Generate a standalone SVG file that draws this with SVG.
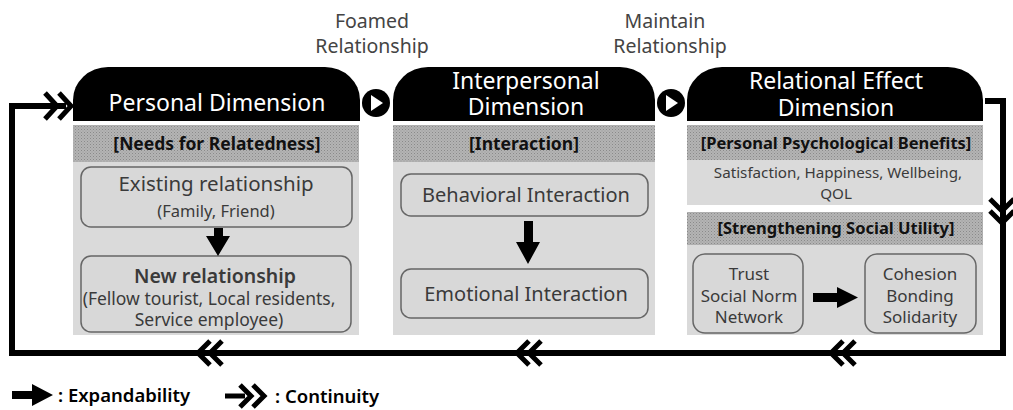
<svg xmlns="http://www.w3.org/2000/svg" width="1013" height="410" viewBox="0 0 1013 410">
<defs>
<pattern id="dots" width="3" height="3" patternUnits="userSpaceOnUse">
<rect width="3" height="3" fill="#b4b4b4"/>
<rect width="1" height="1" fill="#8a8a8a"/>
<rect x="1.5" y="1.5" width="1" height="1" fill="#9a9a9a"/>
</pattern>
</defs>
<style>
text{font-family:"Noto Sans","Liberation Sans",sans-serif;}
.hd{fill:#000;}
.hdt{fill:#fff;font-size:23px;text-anchor:middle;}
.band{fill:url(#dots);}
.panel{fill:#dadada;}
.bt{fill:#111;font-size:17.5px;font-weight:bold;text-anchor:middle;}
.box{fill:#d8d8d8;stroke:#666;stroke-width:1.5;}
.tx{fill:#3a3a3a;text-anchor:middle;}
.loop{fill:none;stroke:#000;stroke-width:6;}
.chev{fill:none;stroke:#000;stroke-width:5;stroke-linejoin:miter;}
.lbl{fill:#444;font-size:19.5px;text-anchor:middle;}
.lg{fill:#000;font-size:18.5px;font-weight:600;}
</style>

<g id="label-foamed">
<text class="lbl"><tspan x="372" y="28">Foamed</tspan><tspan x="372" y="53">Relationship</tspan></text>
</g>
<g id="label-maintain">
<text class="lbl"><tspan x="665" y="28">Maintain</tspan><tspan x="670" y="53">Relationship</tspan></text>
</g>

<g id="personal-dimension">
<path class="hd" d="M73,121 V100 A35,33 0 0 1 108,67 H325 A35,33 0 0 1 360,100 V121 Z"/>
<text class="hdt" x="217" y="111">Personal Dimension</text>
<rect class="band" x="73" y="125" width="286" height="37"/>
<text class="bt" x="217" y="150">[Needs for Relatedness]</text>
<rect class="panel" x="73" y="162" width="286" height="173"/>
<g id="existing-relationship">
<rect class="box" x="81" y="167" width="271" height="60" rx="10"/>
<text class="tx"><tspan x="216" y="191" style="font-size:20.5px">Existing relationship</tspan><tspan x="216" y="217" style="font-size:16.5px">(Family, Friend)</tspan></text>
</g>
<g id="new-relationship">
<rect class="box" x="81" y="256" width="270" height="76" rx="10"/>
<text class="tx" style="font-size:17.5px"><tspan x="215" y="283" style="font-size:19.5px;font-weight:600">New relationship</tspan><tspan x="209" y="305">(Fellow tourist, Local residents,</tspan><tspan x="209" y="326">Service employee)</tspan></text>
</g>
</g>

<g id="interpersonal-dimension">
<path class="hd" d="M393,121 V100 A35,33 0 0 1 428,67 H620 A35,33 0 0 1 655,100 V121 Z"/>
<text class="hdt"><tspan x="526" y="89">Interpersonal</tspan><tspan x="526" y="115">Dimension</tspan></text>
<rect class="band" x="393" y="125" width="262" height="37"/>
<text class="bt" x="524" y="150">[Interaction]</text>
<rect class="panel" x="393" y="162" width="262" height="173"/>
<g id="behavioral-interaction">
<rect class="box" x="401" y="174" width="247" height="42" rx="10"/>
<text class="tx" x="526" y="202" style="font-size:20px">Behavioral Interaction</text>
</g>
<g id="emotional-interaction">
<rect class="box" x="401" y="269" width="247" height="49" rx="10"/>
<text class="tx" x="526" y="301" style="font-size:20px">Emotional Interaction</text>
</g>
</g>

<g id="relational-effect-dimension">
<path class="hd" d="M687,121 V100 A35,33 0 0 1 722,67 H948 A35,33 0 0 1 983,100 V121 Z"/>
<text class="hdt"><tspan x="836" y="89">Relational Effect</tspan><tspan x="836" y="116">Dimension</tspan></text>
<rect class="band" x="687" y="125" width="296" height="35"/>
<text class="bt" x="836" y="149" style="font-size:16.5px">[Personal Psychological Benefits]</text>
<rect class="panel" x="687" y="160" width="296" height="45"/>
<text class="tx" style="font-size:15.2px"><tspan x="838" y="178">Satisfaction, Happiness, Wellbeing,</tspan><tspan x="836" y="199">QOL</tspan></text>
<rect class="band" x="687" y="212" width="296" height="33"/>
<text class="bt" x="836" y="234" style="font-size:16.5px">[Strengthening Social Utility]</text>
<rect class="panel" x="687" y="245" width="296" height="90"/>
<g id="trust-box">
<rect class="box" x="693" y="254" width="110" height="79" rx="12"/>
<text class="tx" style="font-size:17px"><tspan x="749" y="280">Trust</tspan><tspan x="749" y="302">Social Norm</tspan><tspan x="749" y="323">Network</tspan></text>
</g>
<g id="cohesion-box">
<rect class="box" x="865" y="254" width="111" height="79" rx="12"/>
<text class="tx" style="font-size:17px"><tspan x="920" y="280">Cohesion</tspan><tspan x="920" y="302">Bonding</tspan><tspan x="920" y="323">Solidarity</tspan></text>
</g>
</g>

<g id="connectors">
<polyline class="loop" points="66,106 12,106 12,353 1003,353 1003,101 985,101"/>
<polyline class="chev" points="45,93 57,106 45,119"/>
<polyline class="chev" points="59,93 71,106 59,119"/>
<polyline class="chev" points="990,199 1002,211 1014,199"/>
<polyline class="chev" points="990,211 1002,223 1014,211"/>
<polyline class="chev" points="210,341 198,353 210,365"/>
<polyline class="chev" points="222,341 210,353 222,365"/>
<polyline class="chev" points="529,341 517,353 529,365"/>
<polyline class="chev" points="541,341 529,353 541,365"/>
<polyline class="chev" points="843,341 831,353 843,365"/>
<polyline class="chev" points="855,341 843,353 855,365"/>
<circle cx="376" cy="103" r="14" fill="#000"/>
<polygon points="371,95 371,111 383,103" fill="#fff"/>
<circle cx="671" cy="103" r="14" fill="#000"/>
<polygon points="666,95 666,111 678,103" fill="#fff"/>
<path d="M214,228 H223 V236 H230 L218,256 L206,236 H214 Z" fill="#000"/>
<path d="M524,221 H533 V242 H540 L528,264 L516,242 H524 Z" fill="#000"/>
<path d="M813,293 H837 V287 L858,297.5 L837,308 V302 H813 Z" fill="#000"/>
</g>

<g id="legend">
<path d="M12,391 H32 V384 L53,395 L32,406 V399 H12 Z" fill="#000"/>
<text class="lg" x="58" y="402">: Expandability</text>
<line x1="225" y1="396" x2="245" y2="396" stroke="#000" stroke-width="5"/>
<polyline class="chev" points="240,385 251,396 240,407"/>
<polyline class="chev" points="253,385 264,396 253,407"/>
<text class="lg" x="275" y="403">: Continuity</text>
</g>
</svg>
